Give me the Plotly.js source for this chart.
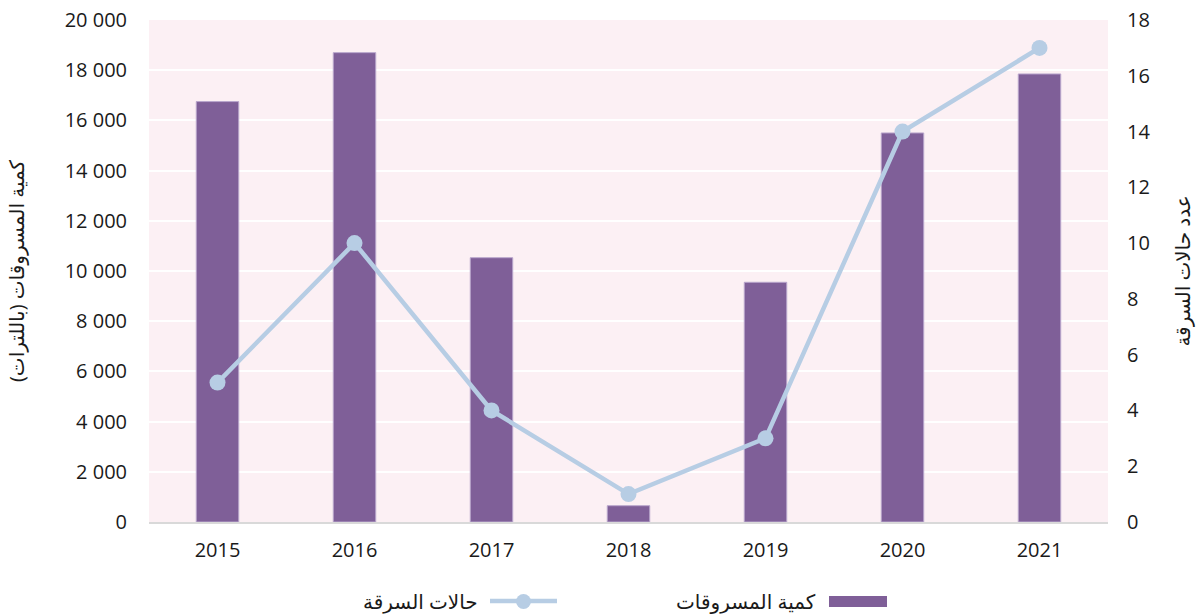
<!DOCTYPE html>
<html>
<head>
<meta charset="utf-8">
<script src="https://cdn.plot.ly/plotly-3.0.1.min.js"></script>
<style>html,body{margin:0;padding:0;background:#fff;}#chart{width:1200px;height:614px;}</style>
</head>
<body>
<div id="chart"></div>
<script>
const years = ['2015','2016','2017','2018','2019','2020','2021'];
const stolenQuantity = [16750, 18700, 10530, 650, 9550, 15500, 17850];
const theftCases = [5, 10, 4, 1, 3, 14, 17];
const barName = 'كمية المسروقات';
const lineName = 'حالات السرقة';
const leftTitle = 'كمية المسروقات (باللترات)';
const rightTitle = 'عدد حالات السرقة';

const FONT = 'Open Sans, DejaVu Sans, sans-serif';
const barColor = '#7f5f98';
const lineColor = '#b7cde4';

const traces = [
  {
    type: 'bar', x: years, y: stolenQuantity, name: barName, yaxis: 'y',
    marker: {color: barColor, line: {color: '#b9a6cc', width: 1}},
    width: 0.31, showlegend: false, hoverinfo: 'x+y'
  },
  {
    type: 'scatter', mode: 'lines+markers', x: years, y: theftCases, name: lineName, yaxis: 'y2',
    line: {color: lineColor, width: 4.5},
    marker: {color: lineColor, size: 16},
    showlegend: false
  }
];

const layout = {
  width: 1200, height: 614,
  margin: {l: 149, r: 92, t: 20, b: 92},
  paper_bgcolor: '#ffffff',
  plot_bgcolor: '#fcf0f4',
  separators: ', ',
  font: {family: FONT, size: 20, color: '#1a1a1a'},
  showlegend: false,
  xaxis: {
    type: 'category', showgrid: false, zeroline: false,
    showline: true, linecolor: '#d9d9d9', linewidth: 2,
    ticks: 'outside', ticklen: 9, tickcolor: 'rgba(0,0,0,0)',
    tickfont: {family: FONT, size: 20, color: '#1a1a1a'}
  },
  yaxis: {
    range: [0, 20000], dtick: 2000, tickformat: ',d',
    showgrid: true, gridcolor: '#ffffff', gridwidth: 2,
    zeroline: false, showline: false,
    ticks: '', ticklabelstandoff: 21,
    tickfont: {family: FONT, size: 20, color: '#1a1a1a'},
    title: {text: leftTitle, font: {family: FONT, size: 20, color: '#1a1a1a'}, standoff: 34}
  },
  yaxis2: {
    overlaying: 'y', side: 'right', range: [0, 18], dtick: 2,
    showgrid: false, zeroline: false, showline: false,
    ticks: '', ticklabelstandoff: 18,
    tickfont: {family: FONT, size: 20, color: '#1a1a1a'},
    title: {text: rightTitle, font: {family: FONT, size: 20, color: '#1a1a1a'}, standoff: 26}
  },
  shapes: [
    {type: 'rect', xref: 'paper', yref: 'paper', x0: (829-149)/959, x1: (887-149)/959, y0: -(596-522)/502, y1: -(607-522)/502,
     fillcolor: barColor, line: {width: 0}},
    {type: 'line', xref: 'paper', yref: 'paper', x0: (490-149)/959, x1: (557-149)/959, y0: -(601-522)/502, y1: -(601-522)/502,
     line: {color: lineColor, width: 4.5}},
    {type: 'circle', xref: 'paper', yref: 'paper', x0: (516-149)/959, x1: (531-149)/959, y0: -(594-522)/502, y1: -(609-522)/502,
     fillcolor: lineColor, line: {width: 0}}
  ],
  annotations: [
    {xref: 'paper', yref: 'paper', x: (818-149)/959, y: -(601-522)/502, xanchor: 'right', yanchor: 'middle',
     text: barName, showarrow: false, font: {family: FONT, size: 20, color: '#1a1a1a'}},
    {xref: 'paper', yref: 'paper', x: (480-149)/959, y: -(601-522)/502, xanchor: 'right', yanchor: 'middle',
     text: lineName, showarrow: false, font: {family: FONT, size: 20, color: '#1a1a1a'}}
  ]
};

Plotly.newPlot('chart', traces, layout, {displayModeBar: false, responsive: false});
</script>
</body>
</html>
